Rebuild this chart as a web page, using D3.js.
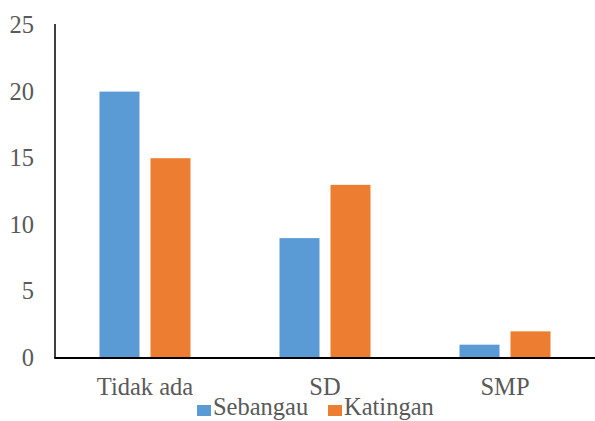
<!DOCTYPE html>
<html>
<head>
<meta charset="utf-8">
<script src="https://cdn.jsdelivr.net/npm/d3@7"></script>
<style>
  html, body { margin: 0; padding: 0; background: #fff; }
  svg { display: block; }
</style>
</head>
<body>
<svg id="chart" width="595" height="421"></svg>
<script>
// Education level per district
const categories = ["Tidak ada", "SD", "SMP"];
const seriesNames = ["Sebangau", "Katingan"];
const sebangau = [20, 9, 1];
const katingan = [15, 13, 2];
const yTicks = [0, 5, 10, 15, 20, 25];
const colors = ["#5B9BD5", "#ED7D31"];

const rows = categories.map((c, i) => ({ category: c, values: [sebangau[i], katingan[i]] }));

const svg = d3.select("#chart");
const plot = { left: 55, right: 595, top: 25, bottom: 358 };
const fontSize = 24.5, stretch = 1.07;
const serif = "'Liberation Serif', 'Times New Roman', Times, serif";

const x0 = d3.scaleBand().domain(categories).range([plot.left, plot.right]).paddingInner(0).paddingOuter(0);
const x1 = d3.scaleBand().domain(seriesNames).range([44.5, 135.5]).paddingInner(11 / 51).paddingOuter(0);
const y = d3.scaleLinear().domain([0, 25]).range([plot.bottom, plot.top]);

// helper for slightly tall serif text
function label(g, tx, ty, str, anchor) {
  return g.append("g")
    .attr("transform", `translate(${tx},${ty}) scale(1,${stretch})`)
    .append("text")
    .attr("text-anchor", anchor)
    .attr("font-family", serif)
    .style("font-family", serif)
    .style("font-size", fontSize + "px")
    .style("fill", "#595959")
    .text(str);
}

// bars
const groups = svg.append("g").selectAll("g")
  .data(rows).join("g")
  .attr("transform", d => `translate(${x0(d.category)},0)`);
groups.selectAll("rect")
  .data(d => d.values.map((v, i) => ({ key: seriesNames[i], value: v, i })))
  .join("rect")
  .attr("x", d => x1(d.key))
  .attr("width", x1.bandwidth())
  .attr("y", d => y(d.value))
  .attr("height", d => y(0) - y(d.value))
  .attr("fill", d => colors[d.i]);

// y axis labels (no tick marks)
const yAxisG = svg.append("g");
yTicks.forEach(t => label(yAxisG, 34, y(t) + 8, d3.format("d")(t), "end"));

// axis lines
svg.append("line").attr("x1", plot.left).attr("x2", plot.left).attr("y1", plot.top - 1).attr("y2", plot.bottom)
  .attr("stroke", "#000").attr("stroke-width", 1.5);
svg.append("line").attr("x1", plot.left - 0.75).attr("x2", 598).attr("y1", plot.bottom).attr("y2", plot.bottom)
  .attr("stroke", "#000").attr("stroke-width", 2);

// category labels
const xAxisG = svg.append("g");
categories.forEach(c => label(xAxisG, x0(c) + x0.bandwidth() / 2, 395, c, "middle"));

// legend
const legend = svg.append("g");
const legendX = [197, 328];
seriesNames.forEach((s, i) => {
  legend.append("rect").attr("x", legendX[i]).attr("y", 405)
    .attr("width", 14).attr("height", 11).attr("fill", colors[i]);
  label(legend, legendX[i] + 16, 415, s, "start");
});
</script>
</body>
</html>
